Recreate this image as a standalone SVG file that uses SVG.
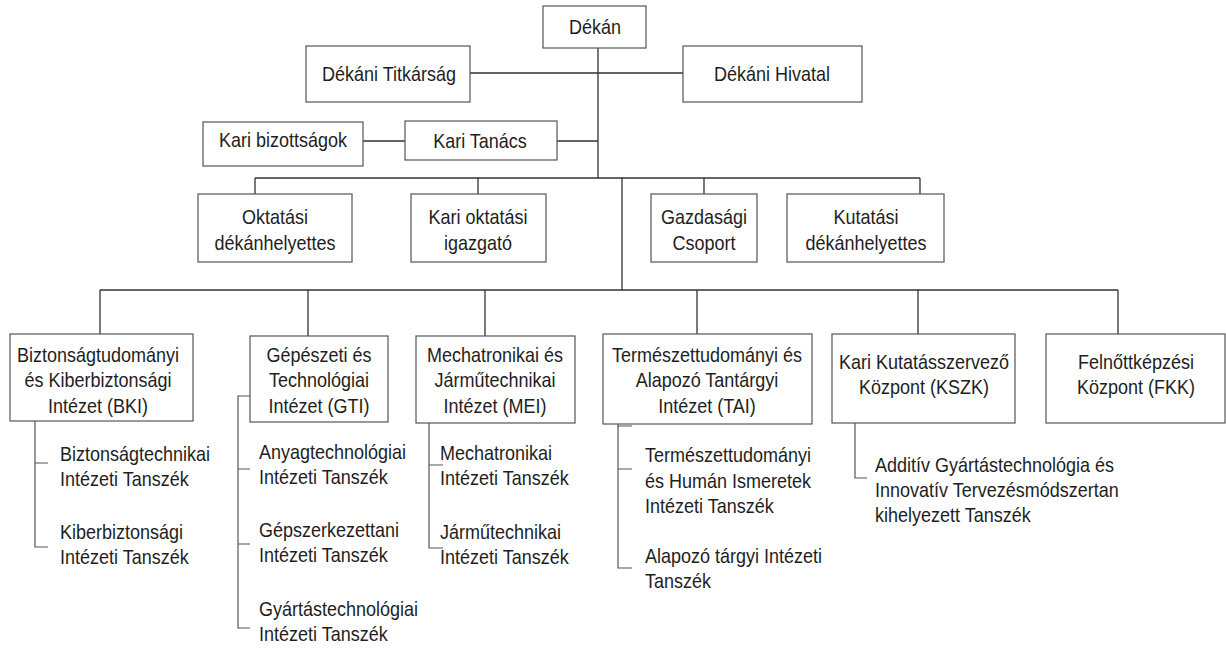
<svg xmlns="http://www.w3.org/2000/svg" width="1226" height="650" viewBox="0 0 1226 650">
<style>
.box{fill:#fff;stroke:#555;stroke-width:1.2}
.t{font-family:"Liberation Sans",Arial,sans-serif;font-size:20px;fill:#1e1e1e}
.c{text-anchor:middle}
.ln{stroke:#333;stroke-width:1.3;fill:none}
.sl{stroke:#555;stroke-width:1.2;fill:none}
</style>
<rect width="1226" height="650" fill="#fff"/>
<g id="connectors">
<path class="ln" d="M598 48V178M470 73H683M363 141H405M557 141H598"/>
<path class="ln" d="M255 178H920M255 178V194M478 178V194M704 178V194M920 178V194M622 178V290"/>
<path class="ln" d="M100 290H1118M100 290V334M308 290V336M485 290V336M697 290V334M918 290V334M1118 290V334"/>
<path class="sl" d="M35 421V547H48M35 463H48"/>
<path class="sl" d="M250 396H238V628H250M238 469H250M238 544H250"/>
<path class="sl" d="M429 423V548H443M429 465H443"/>
<path class="sl" d="M618 424V568H632M618 469H632M618 426H632"/>
<path class="sl" d="M855 423V478H867"/>
</g>
<g id="dekan"><rect class="box" x="543" y="6" width="103" height="42"/><text class="t c" transform="translate(595 34) scale(.9 1)">Dékán</text></g>
<g id="titkarsag"><rect class="box" x="306" y="46" width="164" height="56"/><text class="t c" transform="translate(389 81) scale(.9 1)">Dékáni Titkárság</text></g>
<g id="hivatal"><rect class="box" x="683" y="46" width="179" height="56"/><text class="t c" transform="translate(772 81) scale(.9 1)">Dékáni Hivatal</text></g>
<g id="bizottsagok"><rect class="box" x="203" y="122" width="160" height="44"/><text class="t c" transform="translate(283 147) scale(.9 1)">Kari bizottságok</text></g>
<g id="tanacs"><rect class="box" x="405" y="121" width="152" height="39"/><text class="t c" transform="translate(480 148) scale(.9 1)">Kari Tanács</text></g>
<g id="oktatasi"><rect class="box" x="198" y="194" width="154" height="68"/><text class="t c" transform="translate(275 224) scale(.9 1)">Oktatási</text><text class="t c" transform="translate(275 250) scale(.9 1)">dékánhelyettes</text></g>
<g id="igazgato"><rect class="box" x="411" y="194" width="135" height="68"/><text class="t c" transform="translate(478 224) scale(.9 1)">Kari oktatási</text><text class="t c" transform="translate(478 250) scale(.9 1)">igazgató</text></g>
<g id="gazdasagi"><rect class="box" x="651" y="194" width="106" height="68"/><text class="t c" transform="translate(704 224) scale(.9 1)">Gazdasági</text><text class="t c" transform="translate(704 250) scale(.9 1)">Csoport</text></g>
<g id="kutatasi"><rect class="box" x="787" y="194" width="157" height="68"/><text class="t c" transform="translate(866 224) scale(.9 1)">Kutatási</text><text class="t c" transform="translate(866 250) scale(.9 1)">dékánhelyettes</text></g>
<g id="bki"><rect class="box" x="10" y="334" width="183" height="87"/><text class="t c" transform="translate(98 362) scale(.9 1)">Biztonságtudományi</text><text class="t c" transform="translate(98 387) scale(.9 1)">és Kiberbiztonsági</text><text class="t c" transform="translate(98 413) scale(.9 1)">Intézet (BKI)</text></g>
<g id="gti"><rect class="box" x="250" y="336" width="138" height="86"/><text class="t c" transform="translate(319 362) scale(.9 1)">Gépészeti  és</text><text class="t c" transform="translate(319 387) scale(.9 1)">Technológiai</text><text class="t c" transform="translate(319 413) scale(.9 1)">Intézet (GTI)</text></g>
<g id="mei"><rect class="box" x="416" y="336" width="159" height="87"/><text class="t c" transform="translate(495 362) scale(.9 1)">Mechatronikai és</text><text class="t c" transform="translate(495 387) scale(.9 1)">Járműtechnikai</text><text class="t c" transform="translate(495 413) scale(.9 1)">Intézet (MEI)</text></g>
<g id="tai"><rect class="box" x="603" y="334" width="209" height="90"/><text class="t c" transform="translate(707 362) scale(.9 1)">Természettudományi és</text><text class="t c" transform="translate(707 387) scale(.9 1)">Alapozó Tantárgyi</text><text class="t c" transform="translate(707 413) scale(.9 1)">Intézet (TAI)</text></g>
<g id="kszk"><rect class="box" x="832" y="334" width="183" height="89"/><text class="t c" transform="translate(924 369) scale(.9 1)">Kari Kutatásszervező</text><text class="t c" transform="translate(924 394) scale(.9 1)">Központ (KSZK)</text></g>
<g id="fkk"><rect class="box" x="1046" y="334" width="179" height="89"/><text class="t c" transform="translate(1136 369) scale(.9 1)">Felnőttképzési</text><text class="t c" transform="translate(1136 394) scale(.9 1)">Központ (FKK)</text></g>
<g id="bki-sub"><text class="t" transform="translate(60 461) scale(.9 1)">Biztonságtechnikai</text><text class="t" transform="translate(60 486) scale(.9 1)">Intézeti Tanszék</text><text class="t" transform="translate(60 539) scale(.9 1)">Kiberbiztonsági</text><text class="t" transform="translate(60 564) scale(.9 1)">Intézeti Tanszék</text></g>
<g id="gti-sub"><text class="t" transform="translate(259 459) scale(.9 1)">Anyagtechnológiai</text><text class="t" transform="translate(259 484) scale(.9 1)">Intézeti Tanszék</text><text class="t" transform="translate(259 537) scale(.9 1)">Gépszerkezettani</text><text class="t" transform="translate(259 562) scale(.9 1)">Intézeti Tanszék</text><text class="t" transform="translate(259 616) scale(.9 1)">Gyártástechnológiai</text><text class="t" transform="translate(259 641) scale(.9 1)">Intézeti Tanszék</text></g>
<g id="mei-sub"><text class="t" transform="translate(440 460) scale(.9 1)">Mechatronikai</text><text class="t" transform="translate(440 485) scale(.9 1)">Intézeti Tanszék</text><text class="t" transform="translate(440 539) scale(.9 1)">Járműtechnikai</text><text class="t" transform="translate(440 564) scale(.9 1)">Intézeti Tanszék</text></g>
<g id="tai-sub"><text class="t" transform="translate(645 462) scale(.9 1)">Természettudományi</text><text class="t" transform="translate(645 488) scale(.9 1)">és Humán Ismeretek</text><text class="t" transform="translate(645 513) scale(.9 1)">Intézeti Tanszék</text><text class="t" transform="translate(645 563) scale(.9 1)">Alapozó tárgyi Intézeti</text><text class="t" transform="translate(645 588) scale(.9 1)">Tanszék</text></g>
<g id="kszk-sub"><text class="t" transform="translate(875 472) scale(.9 1)">Additív Gyártástechnológia és</text><text class="t" transform="translate(875 497) scale(.9 1)">Innovatív Tervezésmódszertan</text><text class="t" transform="translate(875 522) scale(.9 1)">kihelyezett Tanszék</text></g>
</svg>
